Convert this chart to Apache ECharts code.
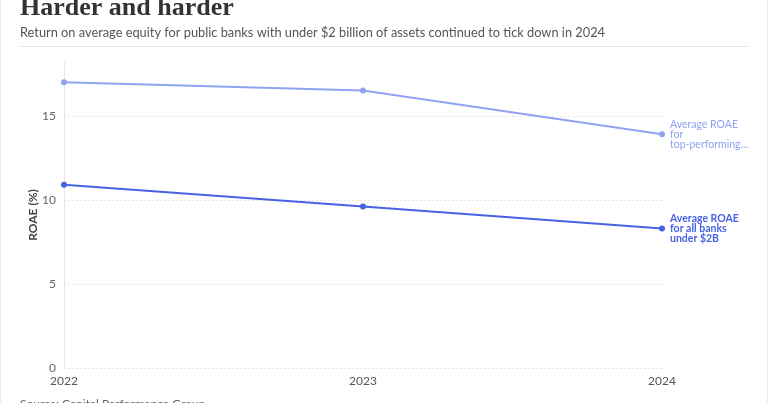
<!DOCTYPE html>
<html>
<head>
<meta charset="utf-8">
<script src="https://cdn.jsdelivr.net/npm/echarts@6/dist/echarts.min.js"></script>
<style>
  html, body { margin: 0; padding: 0; background: #fff; }
  #chart { width: 766px; height: 403px; border-left: 1px solid #ececec; border-right: 1px solid #ececec; }
</style>
</head>
<body>
<div id="chart"></div>
<script>
const years = ['2022', '2023', '2024'];
const topPerformers = [17.0, 16.5, 13.9];
const allBanks = [10.9, 9.6, 8.3];
const yTicks = [0, 5, 10, 15];

const chart = echarts.init(document.getElementById('chart'));

const option = {
  animation: false,
  textStyle: { fontFamily: 'Lato' },
  grid: { left: 63, right: 105, top: 62, bottom: 35 },
  graphic: [
    {
      type: 'text', left: 19, top: -5,
      style: { text: 'Harder and harder', font: 'bold 26px "Liberation Serif"', fill: '#333' }
    },
    {
      type: 'text', left: 19, top: 26,
      style: {
        text: 'Return on average equity for public banks with under $2 billion of assets continued to tick down in 2024',
        font: '12.8px Lato', fill: '#555'
      }
    },
    {
      type: 'rect', left: 19, top: 46,
      shape: { width: 729, height: 1 },
      style: { fill: '#e6e6e6' }
    },
    {
      type: 'text', left: 19, top: 398,
      style: { text: 'Source: Capital Performance Group', font: '12px Lato', fill: '#666' }
    }
  ],
  xAxis: {
    type: 'category',
    data: years,
    boundaryGap: false,
    axisLine: { show: false },
    axisTick: { show: false },
    axisLabel: { color: '#555', fontSize: 12, margin: 7 },
    splitLine: { show: false }
  },
  yAxis: {
    type: 'value',
    min: 0,
    max: 18.2,
    interval: 5,
    name: 'ROAE (%)',
    nameLocation: 'middle',
    nameGap: 25,
    nameMoveOverlap: false,
    nameTextStyle: { color: '#444', fontSize: 12, fontWeight: 'bold' },
    axisLine: { show: true, lineStyle: { color: '#e6e6e6' } },
    axisTick: { show: false },
    axisLabel: {
      color: '#666', fontSize: 12, margin: 8, showMaxLabel: false,
      formatter: v => (yTicks.includes(v) ? String(v) : '')
    },
    splitLine: { show: true, showMaxLine: false, lineStyle: { color: '#e8e8e8', type: [2, 2] } }
  },
  series: [
    {
      name: 'Average ROAE for top-performing banks',
      type: 'line',
      data: topPerformers,
      symbol: 'circle',
      symbolSize: 6,
      lineStyle: { color: '#8fa3f1', width: 2 },
      itemStyle: { color: '#8fa3f1' },
      endLabel: {
        show: true,
        distance: 8,
        formatter: 'Average ROAE\nfor\ntop-performing...',
        color: '#8fa3f1',
        fontSize: 10.5,
        lineHeight: 10
      }
    },
    {
      name: 'Average ROAE for all banks under $2B',
      type: 'line',
      data: allBanks,
      symbol: 'circle',
      symbolSize: 6,
      lineStyle: { color: '#4563e2', width: 2 },
      itemStyle: { color: '#4563e2' },
      endLabel: {
        show: true,
        distance: 8,
        formatter: 'Average ROAE\nfor all banks\nunder $2B',
        color: '#4563e2',
        fontSize: 10.5,
        fontWeight: 'bold',
        lineHeight: 10
      }
    }
  ]
};

chart.setOption(option);
</script>
</body>
</html>
